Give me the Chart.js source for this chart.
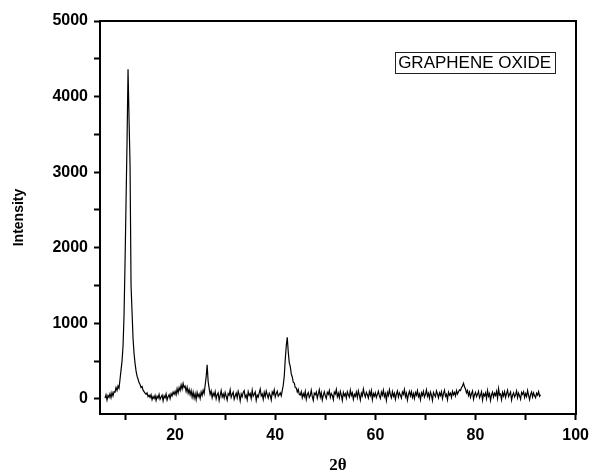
<!DOCTYPE html>
<html>
<head>
<meta charset="utf-8">
<title>XRD - Graphene oxide</title>
<script src="https://cdn.jsdelivr.net/npm/chart.js@4.4.1/dist/chart.umd.min.js"></script>
<style>
  html, body { margin: 0; padding: 0; background: #fff; }
  canvas { display: block; }
</style>
</head>
<body>
<canvas id="xrdChart" width="595" height="474"></canvas>
<script>
// 2-theta positions (degrees), one row per degree
const twoTheta = [
  6.0, 6.2, 6.4, 6.6, 6.8,  7.0, 7.2, 7.4, 7.6, 7.8,  8.0, 8.2, 8.4, 8.6, 8.8,  9.0, 9.2, 9.4, 9.6, 9.8,
  10.0, 10.2, 10.4, 10.6, 10.8,  11.0, 11.2, 11.4, 11.6, 11.8,  12.0, 12.2, 12.4, 12.6, 12.8,  13.0, 13.2, 13.4, 13.6, 13.8,
  14.0, 14.2, 14.4, 14.6, 14.8,  15.0, 15.2, 15.4, 15.6, 15.8,  16.0, 16.2, 16.4, 16.6, 16.8,  17.0, 17.2, 17.4, 17.6, 17.8,
  18.0, 18.2, 18.4, 18.6, 18.8,  19.0, 19.2, 19.4, 19.6, 19.8,  20.0, 20.2, 20.4, 20.6, 20.8,  21.0, 21.2, 21.4, 21.6, 21.8,
  22.0, 22.2, 22.4, 22.6, 22.8,  23.0, 23.2, 23.4, 23.6, 23.8,  24.0, 24.2, 24.4, 24.6, 24.8,  25.0, 25.2, 25.4, 25.6, 25.8,
  26.0, 26.2, 26.4, 26.6, 26.8,  27.0, 27.2, 27.4, 27.6, 27.8,  28.0, 28.2, 28.4, 28.6, 28.8,  29.0, 29.2, 29.4, 29.6, 29.8,
  30.0, 30.2, 30.4, 30.6, 30.8,  31.0, 31.2, 31.4, 31.6, 31.8,  32.0, 32.2, 32.4, 32.6, 32.8,  33.0, 33.2, 33.4, 33.6, 33.8,
  34.0, 34.2, 34.4, 34.6, 34.8,  35.0, 35.2, 35.4, 35.6, 35.8,  36.0, 36.2, 36.4, 36.6, 36.8,  37.0, 37.2, 37.4, 37.6, 37.8,
  38.0, 38.2, 38.4, 38.6, 38.8,  39.0, 39.2, 39.4, 39.6, 39.8,  40.0, 40.2, 40.4, 40.6, 40.8,  41.0, 41.2, 41.4, 41.6, 41.8,
  42.0, 42.2, 42.4, 42.6, 42.8,  43.0, 43.2, 43.4, 43.6, 43.8,  44.0, 44.2, 44.4, 44.6, 44.8,  45.0, 45.2, 45.4, 45.6, 45.8,
  46.0, 46.2, 46.4, 46.6, 46.8,  47.0, 47.2, 47.4, 47.6, 47.8,  48.0, 48.2, 48.4, 48.6, 48.8,  49.0, 49.2, 49.4, 49.6, 49.8,
  50.0, 50.2, 50.4, 50.6, 50.8,  51.0, 51.2, 51.4, 51.6, 51.8,  52.0, 52.2, 52.4, 52.6, 52.8,  53.0, 53.2, 53.4, 53.6, 53.8,
  54.0, 54.2, 54.4, 54.6, 54.8,  55.0, 55.2, 55.4, 55.6, 55.8,  56.0, 56.2, 56.4, 56.6, 56.8,  57.0, 57.2, 57.4, 57.6, 57.8,
  58.0, 58.2, 58.4, 58.6, 58.8,  59.0, 59.2, 59.4, 59.6, 59.8,  60.0, 60.2, 60.4, 60.6, 60.8,  61.0, 61.2, 61.4, 61.6, 61.8,
  62.0, 62.2, 62.4, 62.6, 62.8,  63.0, 63.2, 63.4, 63.6, 63.8,  64.0, 64.2, 64.4, 64.6, 64.8,  65.0, 65.2, 65.4, 65.6, 65.8,
  66.0, 66.2, 66.4, 66.6, 66.8,  67.0, 67.2, 67.4, 67.6, 67.8,  68.0, 68.2, 68.4, 68.6, 68.8,  69.0, 69.2, 69.4, 69.6, 69.8,
  70.0, 70.2, 70.4, 70.6, 70.8,  71.0, 71.2, 71.4, 71.6, 71.8,  72.0, 72.2, 72.4, 72.6, 72.8,  73.0, 73.2, 73.4, 73.6, 73.8,
  74.0, 74.2, 74.4, 74.6, 74.8,  75.0, 75.2, 75.4, 75.6, 75.8,  76.0, 76.2, 76.4, 76.6, 76.8,  77.0, 77.2, 77.4, 77.6, 77.8,
  78.0, 78.2, 78.4, 78.6, 78.8,  79.0, 79.2, 79.4, 79.6, 79.8,  80.0, 80.2, 80.4, 80.6, 80.8,  81.0, 81.2, 81.4, 81.6, 81.8,
  82.0, 82.2, 82.4, 82.6, 82.8,  83.0, 83.2, 83.4, 83.6, 83.8,  84.0, 84.2, 84.4, 84.6, 84.8,  85.0, 85.2, 85.4, 85.6, 85.8,
  86.0, 86.2, 86.4, 86.6, 86.8,  87.0, 87.2, 87.4, 87.6, 87.8,  88.0, 88.2, 88.4, 88.6, 88.8,  89.0, 89.2, 89.4, 89.6, 89.8,
  90.0, 90.2, 90.4, 90.6, 90.8,  91.0, 91.2, 91.4, 91.6, 91.8,  92.0, 92.2, 92.4, 92.6, 92.8,  93.0
];

// measured intensity (counts), same layout as twoTheta
const intensity = [
  10, 55, -15, 45, 20,  70, 15, 85, 40, 95,  90, 150, 110, 170, 140,  260, 380, 500, 700, 1100,
  1800, 2600, 3400, 4360, 3700,  3100, 1500, 1150, 800, 600,  470, 370, 300, 260, 215,  190, 150, 165, 115, 95,
  75, 60, 80, 30, 48,  20, 55, -10, 30, 5,  45, -20, 35, 10, 60,  -5, 25, 50, -25, 40,
  15, 65, -15, 30, 55,  5, 70, 40, 90, 60,  100, 55, 135, 80, 150,  110, 185, 130, 205, 150,
  170, 100, 155, 75, 125,  55, 110, 25, 90, 10,  70, -10, 85, 30, 65,  5, 90, 45, 115, 70,
  180, 290, 450, 230, 140,  60, 105, 15, 75, 40,  95, 0, 55, 80, -20,  45, 110, 25, 65, 10,
  85, 35, -15, 70, 50,  120, 20, 60, 90, -5,  40, 75, 15, 100, 55,  -25, 65, 30, 85, 110,
  20, 50, -10, 95, 45,  70, 5, 115, 35, 60,  90, -20, 50, 25, 80,  130, 40, 65, -5, 85,
  30, 105, 55, 10, 75,  45, -15, 90, 60, 120,  25, 70, 100, 35, 55,  80, 40, 110, 180, 300,
  520, 700, 815, 620, 480,  430, 330, 290, 220, 210,  150, 145, 90, 125, 60,  50, 95, 15, 70, 30,
  100, -5, 60, 85, 20,  45, 115, 30, -20, 75,  55, 90, 10, 65, 120,  25, 80, -15, 50, 95,
  40, 5, 85, 60, 110,  20, 70, 45, -10, 90,  65, 125, 30, 75, 15,  100, 50, -20, 85, 40,
  70, 10, 95, 55, 25,  115, 45, 80, -5, 60,  35, 90, 20, 105, 50,  -15, 75, 40, 130, 65,
  25, 85, 55, 10, 95,  45, 110, -10, 70, 35,  80, 20, 60, 100, 40,  5, 90, 50, 115, 30,
  70, -20, 85, 45, 120,  55, 15, 95, 35, 75,  -5, 65, 105, 25, 80,  50, 10, 90, 60, 125,
  30, 75, -15, 55, 100,  40, 95, 20, 70, 5,  85, 50, 110, 30, 65,  -10, 80, 45, 100, 25,
  60, 120, 35, 75, 10,  90, 50, -20, 85, 55,  30, 105, 65, 15, 80,  45, 95, 5, 70, 115,
  35, 60, -10, 90, 50,  75, 20, 100, 55, 85,  40, 110, 65, 95, 120,  110, 150, 170, 207, 160,
  130, 80, 110, 45, 90,  20, 70, 105, -5, 55,  85, 30, 60, 100, 15,  50, 95, -15, 65, 40,
  80, 5, 110, 35, 70,  -20, 55, 90, 25, 75,  45, 100, 10, 135, 50,  65, -10, 85, 40, 95,
  20, 70, 115, 30, 60,  90, -15, 50, 80, 25,  55, 105, 15, 75, 40,  -5, 85, 60, 95, 20,
  70, 30, 110, 45, -10,  60, 90, 25, 80, 40,  15, 75, 50, 95, 35,  55
];

// axis ticks and labels
const xTickValues = [10, 20, 30, 40, 50, 60, 70, 80, 90, 100];
const xTickLabels = ['', '20', '', '40', '', '60', '', '80', '', '100'];
const yTickValues = [0, 500, 1000, 1500, 2000, 2500, 3000, 3500, 4000, 4500, 5000];
const yTickLabels = ['0', '', '1000', '', '2000', '', '3000', '', '4000', '', '5000'];

const sampleName = 'GRAPHENE OXIDE';

const tickFont = { family: 'Liberation Sans', size: 16, weight: 'bold' };

// boxed sample name in the upper right of the plot
const sampleLabel = {
  id: 'sampleLabel',
  afterDraw(chart) {
    const { ctx, chartArea } = chart;
    const boxW = 160, boxH = 21;
    const left = chartArea.right - 21 - boxW;
    const top = chartArea.top + 31;
    ctx.save();
    ctx.strokeStyle = '#222';
    ctx.lineWidth = 1;
    ctx.strokeRect(Math.round(left) + 0.5, Math.round(top) + 0.5, boxW, boxH);
    ctx.fillStyle = '#000';
    ctx.font = '17px "Liberation Sans"';
    ctx.textAlign = 'center';
    ctx.textBaseline = 'middle';
    ctx.fillText(sampleName, left + boxW / 2, top + boxH / 2 + 1);
    ctx.restore();
  }
};

const ctx = document.getElementById('xrdChart').getContext('2d');

new Chart(ctx, {
  type: 'line',
  data: {
    datasets: [{
      data: twoTheta.map((t, i) => ({ x: t, y: intensity[i] })),
      borderColor: '#000',
      borderWidth: 1.2,
      pointRadius: 0,
      tension: 0,
      fill: false
    }]
  },
  options: {
    responsive: false,
    animation: false,
    layout: { padding: { top: 21, right: 15, bottom: 0, left: 0 } },
    plugins: {
      legend: { display: false },
      tooltip: { enabled: false }
    },
    scales: {
      x: {
        type: 'linear',
        position: 'bottom',
        min: 5,
        max: 100,
        afterBuildTicks: scale => { scale.ticks = xTickValues.map(v => ({ value: v })); },
        afterFit: scale => { scale.height = 60; },
        ticks: {
          autoSkip: false,
          maxRotation: 0,
          color: '#000',
          font: tickFont,
          padding: 6,
          callback: (value, index) => xTickLabels[index]
        },
        grid: { drawOnChartArea: false, tickLength: 6, tickWidth: 2, tickColor: '#000' },
        border: { color: '#000', width: 2 },
        title: {
          display: true,
          text: '2θ',
          color: '#000',
          font: { family: 'Liberation Serif', size: 17, weight: 'bold', lineHeight: 1 },
          padding: { top: 0, bottom: 0 }
        }
      },
      y: {
        type: 'linear',
        position: 'left',
        min: -200,
        max: 5000,
        afterBuildTicks: scale => { scale.ticks = yTickValues.map(v => ({ value: v })); },
        afterFit: scale => { scale.width = 100; },
        ticks: {
          autoSkip: false,
          color: '#000',
          font: tickFont,
          padding: 6,
          callback: (value, index) => yTickLabels[index]
        },
        grid: { drawOnChartArea: false, tickLength: 6, tickWidth: 2, tickColor: '#000' },
        border: { color: '#000', width: 2 },
        title: {
          display: true,
          text: 'Intensity',
          color: '#000',
          font: { family: 'Liberation Sans', size: 14, weight: 'bold', lineHeight: 1 },
          padding: { top: 12, bottom: 0 }
        }
      },
      // top and right frame lines
      xTop: {
        type: 'linear',
        position: 'top',
        afterFit: scale => { scale.height = 0; },
        ticks: { display: false },
        grid: { drawOnChartArea: false, drawTicks: false },
        border: { color: '#000', width: 2 }
      },
      yRight: {
        type: 'linear',
        position: 'right',
        afterFit: scale => { scale.width = 0; },
        ticks: { display: false },
        grid: { drawOnChartArea: false, drawTicks: false },
        border: { color: '#000', width: 2 }
      }
    }
  },
  plugins: [sampleLabel]
});
</script>
</body>
</html>
